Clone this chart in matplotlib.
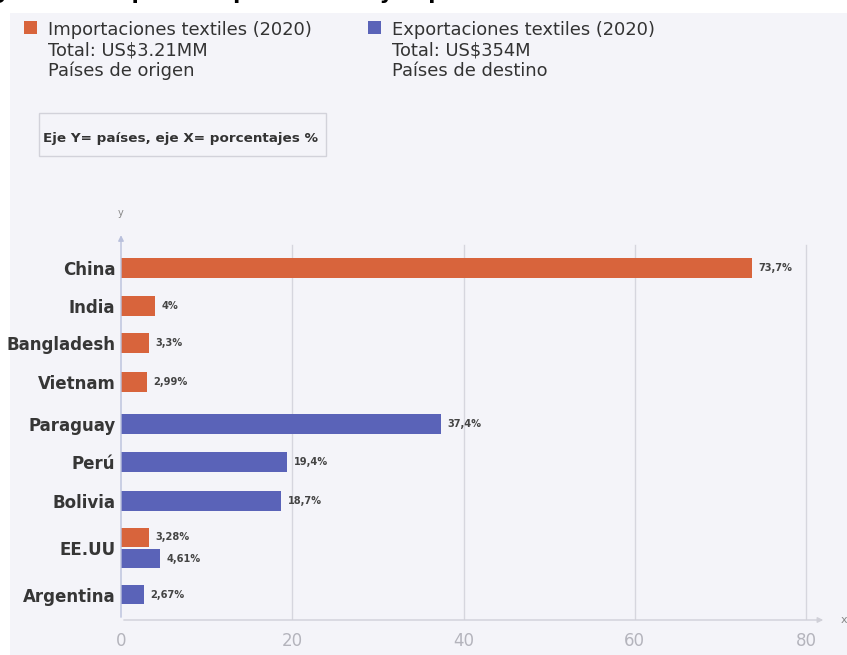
import matplotlib
matplotlib.use('Agg')
import matplotlib.pyplot as plt
from matplotlib.patches import Rectangle

countries = ['China', 'India', 'Bangladesh', 'Vietnam', 'Paraguay', 'Perú', 'Bolivia', 'EE.UU', 'Argentina']

imp_countries = ['China', 'India', 'Bangladesh', 'Vietnam', 'EE.UU']
imp_values = [73.7, 4, 3.3, 2.99, 3.28]
imp_labels = ['73,7%', '4%', '3,3%', '2,99%', '3,28%']

exp_countries = ['Paraguay', 'Perú', 'Bolivia', 'EE.UU', 'Argentina']
exp_values = [37.4, 19.4, 18.7, 4.61, 2.67]
exp_labels = ['37,4%', '19,4%', '18,7%', '4,61%', '2,67%']

xticks = [0, 20, 40, 60, 80]

# layout: vertical centre of each row (pixels below the top of the plot area)
row_y = {'China': 28, 'India': 66, 'Bangladesh': 103, 'Vietnam': 142, 'Paraguay': 184,
         'Perú': 222, 'Bolivia': 261, 'EE.UU': 308, 'Argentina': 354.5}
imp_shift = {'EE.UU': -10.5}
exp_shift = {'EE.UU': 10.5}

ORANGE = '#d8643c'
BLUE = '#5a63b8'
BG = '#f4f4f9'
TXT = '#333333'

fig = plt.figure(figsize=(8.47, 6.55), dpi=100)
W, H = 847, 655
fig.patches.append(Rectangle((10 / W, 0), 1, 1 - 13 / H, transform=fig.transFigure,
                             facecolor=BG, edgecolor='none', zorder=-10))

# cut-off title at the very top (only the descenders show)
fig.text(-30 / W, 1 + 1 / H, 'Figura 13. Mapa de importaciones y exportaciones textiles',
         fontsize=15, fontweight='bold', color='black', va='baseline', ha='left')

# legend blocks
def legend_block(x, color, lines):
    fig.patches.append(Rectangle((x / W, 1 - 34 / H), 13 / W, 13 / H, transform=fig.transFigure,
                                 facecolor=color, edgecolor='none'))
    for i, s in enumerate(lines):
        fig.text((x + 24) / W, 1 - (35 + 20.5 * i) / H, s, fontsize=12.9, color=TXT,
                 va='baseline', ha='left')

legend_block(24, ORANGE, ['Importaciones textiles (2020)', 'Total: US$3.21MM', 'Países de origen'])
legend_block(368, BLUE, ['Exportaciones textiles (2020)', 'Total: US$354M', 'Países de destino'])

fig.patches.append(Rectangle((39 / W, 1 - 156 / H), 287 / W, 43 / H, transform=fig.transFigure,
                             facecolor='none', edgecolor='#d2d2da', lw=1))
fig.text(43 / W, 1 - 142 / H, 'Eje Y= países, eje X= porcentajes %', fontsize=9.7,
         fontweight='bold', color=TXT, va='baseline', ha='left')

# plot area
ax = fig.add_axes([121 / W, 35 / H, 705 / W, 380 / H])
ax.set_facecolor('none')
ax.set_xlim(0, 80 * 705 / 685)
ax.set_ylim(380, 0)

for c, v, lab in zip(imp_countries, imp_values, imp_labels):
    y = row_y[c] + imp_shift.get(c, 0)
    ax.barh(y, v, height=19.5, color=ORANGE, zorder=3)
    ax.text(v + 0.75, y, lab, fontsize=7.1, fontweight='bold', color='#444444',
            va='center', ha='left', zorder=4)

for c, v, lab in zip(exp_countries, exp_values, exp_labels):
    y = row_y[c] + exp_shift.get(c, 0)
    ax.barh(y, v, height=19.5, color=BLUE, zorder=3)
    ax.text(v + 0.75, y, lab, fontsize=7.1, fontweight='bold', color='#444444',
            va='center', ha='left', zorder=4)

ax.set_yticks([row_y[c] for c in countries])
ax.set_yticklabels(countries, fontsize=12, fontweight='bold', color='#363636')
ax.set_xticks(xticks)
ax.set_xticklabels([str(t) for t in xticks], fontsize=12, color='#b4b4bc')
ax.tick_params(axis='both', length=0)
ax.tick_params(axis='y', pad=4)
ax.tick_params(axis='x', pad=9)

for t in xticks[1:]:
    ax.plot([t, t], [380, 5], color='#d6d6de', lw=1, zorder=1)

for s in ax.spines.values():
    s.set_visible(False)

# axis lines with arrows
ax.annotate('', xy=(0, 1.02), xytext=(0, 0), xycoords='axes fraction',
            arrowprops=dict(arrowstyle='-|>', color='#b9c0dc', lw=1, mutation_scale=8))
ax.annotate('', xy=(1.0, 0), xytext=(0, 0), xycoords='axes fraction',
            arrowprops=dict(arrowstyle='-|>', color='#d0d0d8', lw=1, mutation_scale=8))
ax.text(0, 1.07, 'y', transform=ax.transAxes, fontsize=7, color='#888888', ha='center', va='center')
ax.text(1.026, 0, 'x', transform=ax.transAxes, fontsize=8, color='#888888', ha='center', va='center')

fig.savefig('out.png', dpi=100)
